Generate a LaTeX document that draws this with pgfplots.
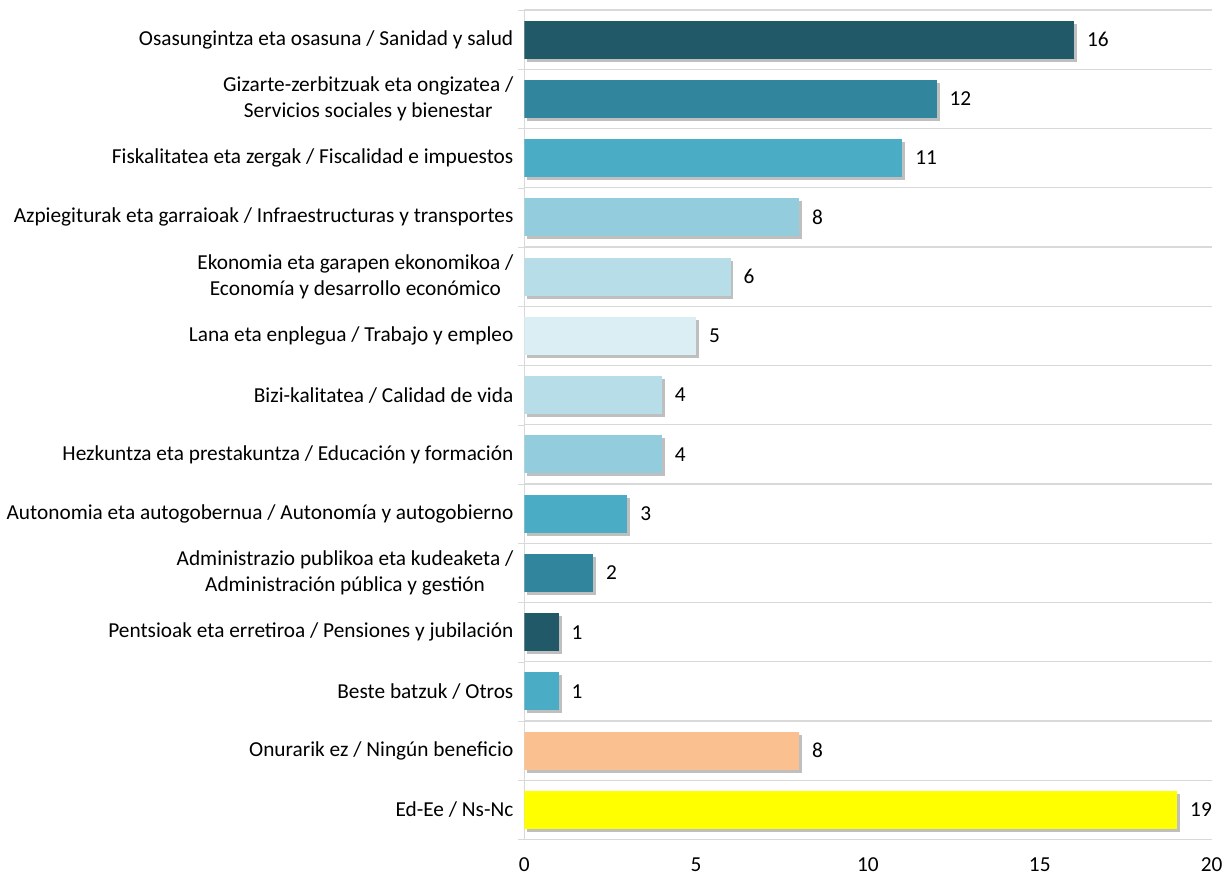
\documentclass[border=0pt]{standalone}
\usepackage{fontspec}
\setmainfont{Carlito}
\usepackage{pgfplots}
\pgfplotsset{compat=1.18}
\usetikzlibrary{shadows}

\definecolor{c1}{HTML}{215968}
\definecolor{c2}{HTML}{31859C}
\definecolor{c3}{HTML}{4BACC6}
\definecolor{c4}{HTML}{93CDDD}
\definecolor{c5}{HTML}{B7DEE8}
\definecolor{c6}{HTML}{DAEEF3}
\definecolor{c7}{HTML}{FAC090}
\definecolor{c8}{HTML}{FFFF00}
\definecolor{gridc}{HTML}{D9D9D9}

\begin{document}
\begin{tikzpicture}
  \begin{axis}[
        xbar, scale only axis,
        width=345pt, height=416.5pt,
        bar width=0.64, /pgf/bar shift=0pt,
        xmin=0, xmax=20,
        ymin=-0.5, ymax=13.5,
        y dir=reverse,
        xtick={0,5,10,15,20},
        ytick={0,...,13},
        yticklabels={
          Osasungintza eta osasuna / Sanidad y salud,
          {Gizarte-zerbitzuak eta ongizatea /\\Servicios sociales y bienestar},
          Fiskalitatea eta zergak / Fiscalidad e impuestos,
          Azpiegiturak eta garraioak / Infraestructuras y transportes,
          {Ekonomia eta garapen ekonomikoa /\\Economía y desarrollo económico},
          Lana eta enplegua / Trabajo y empleo,
          Bizi-kalitatea / Calidad de vida,
          Hezkuntza eta prestakuntza / Educación y formación,
          Autonomia eta autogobernua / Autonomía y autogobierno,
          {Administrazio publikoa eta kudeaketa /\\Administración pública y gestión},
          Pentsioak eta erretiroa / Pensiones y jubilación,
          Beste batzuk / Otros,
          Onurarik ez / Ningún beneficio,
          Ed-Ee / Ns-Nc},
        minor ytick={-0.5,0.5,...,13.5},
        ymajorgrids=false, yminorgrids,
        minor grid style={draw=gridc, line width=0.6pt},
        major tick length=0pt, minor tick length=3pt,
        tick align=outside,
        minor tick style={draw=gridc},
        axis x line*=bottom, axis y line*=left,
        axis line style={draw=gridc, line width=0.6pt},
        x axis line style={draw=none},
        tick label style={font=\fontsize{10.7}{13}\selectfont},
        yticklabel style={align=center, xshift=-2pt},
        xticklabel style={yshift=-5.5pt},
        /pgf/number format/assume math mode=true,
        nodes near coords,
        every node near coord/.append style={font=\fontsize{10.7}{13}\selectfont, black, anchor=west, xshift=3pt},
        every axis plot/.append style={draw=none, drop shadow={shadow xshift=1.5pt, shadow yshift=-1.5pt, opacity=0.25, fill=black}},
    ]
\addplot[fill=c1] coordinates {(16,0)};
\addplot[fill=c2] coordinates {(12,1)};
\addplot[fill=c3] coordinates {(11,2)};
\addplot[fill=c4] coordinates {(8,3)};
\addplot[fill=c5] coordinates {(6,4)};
\addplot[fill=c6] coordinates {(5,5)};
\addplot[fill=c5] coordinates {(4,6)};
\addplot[fill=c4] coordinates {(4,7)};
\addplot[fill=c3] coordinates {(3,8)};
\addplot[fill=c2] coordinates {(2,9)};
\addplot[fill=c1] coordinates {(1,10)};
\addplot[fill=c3] coordinates {(1,11)};
\addplot[fill=c7] coordinates {(8,12)};
\addplot[fill=c8] coordinates {(19,13)};
\end{axis}
\path (current axis.north) ++(0,5pt);
\end{tikzpicture}
\end{document}
